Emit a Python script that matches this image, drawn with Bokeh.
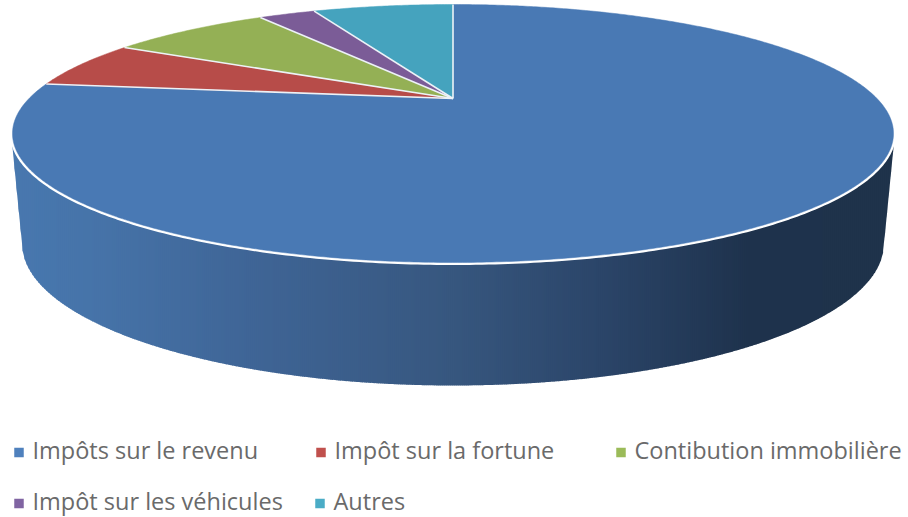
import numpy as np
from bokeh.core.properties import value
from bokeh.embed import file_html
from bokeh.models import Range1d
from bokeh.plotting import figure
from bokeh.resources import INLINE

# Data (share of the total, %)
categories = ["Impôts sur le revenu", "Impôt sur la fortune", "Contibution immobilière",
              "Impôt sur les véhicules", "Autres"]
shares = [77.0, 6.0, 7.6, 2.7, 6.7]
top_colors = ["#4979B4", "#B74C49", "#94B055", "#7B5C97", "#45A3BE"]
legend_colors = ["#4F81BD", "#C0504D", "#9BBB59", "#8064A2", "#4BACC6"]

# Layout
W, H = 908, 517
CX, APEX_Y, TOP_Y, FRONT_Y = 452.5, 98.0, 4.0, 262.0
RX, ELL_CY, ELL_RY = 440.5, 133.0, 129.0
BOT_RX, BOT_CY, BOT_RY = 431.0, 243.0, 142.0
WALL_START_Y = 147.0
legend_x = [14, 316, 616, 14, 315]
legend_text_x = [32, 334, 634, 32, 333]
legend_y = [452, 452, 452, 503, 503]
TEXT_SHIFT = -2.5
FONT_PX = "23.5px"

# Perspective of the flat disc: back edge, centre and front edge map to TOP_Y, APEX_Y, FRONT_Y
c = -(2 * APEX_Y - TOP_Y - FRONT_Y) / (FRONT_Y - TOP_Y)
a = TOP_Y * (1 + c) - APEX_Y
d = RX * np.sqrt(1 - c * c)


def rim(phi):
    den = 1 + c * np.cos(phi)
    return CX + d * np.sin(phi) / den, (APEX_Y + a * np.cos(phi)) / den


p = figure(width=W, height=H, output_backend="svg", toolbar_location=None,
           x_range=Range1d(0, W), y_range=Range1d(H, 0),
           x_axis_location=None, y_axis_location=None, min_border=0,
           outline_line_color=None, background_fill_color="white", border_fill_color="white")
p.grid.visible = False

# Side wall: vertical strips for the shading
stops_x = [12, 100, 250, 450, 600, 750, 893]
stops_rgb = np.array([[72, 120, 175], [70, 115, 168], [63, 101, 150], [55, 87, 127],
                      [43, 69, 105], [30, 50, 76], [31, 51, 75]], dtype=float)
edges = np.arange(12.0, 893.5, 2.0)
xs, ys, cols = [], [], []


def wall_bottom(x):
    if x < CX - BOT_RX:
        return WALL_START_Y + (x - 12) * (BOT_CY - WALL_START_Y) / (CX - BOT_RX - 12)
    if x > CX + BOT_RX:
        return WALL_START_Y + (893 - x) * (BOT_CY - WALL_START_Y) / (893 - CX - BOT_RX)
    return BOT_CY + BOT_RY * np.sqrt(1 - ((x - CX) / BOT_RX) ** 2)


for x0 in edges:
    x1 = min(x0 + 2.6, 893.0)
    rgb = [np.interp(x0 + 1, stops_x, stops_rgb[:, k]) for k in range(3)]
    xs.append([x0, x1, x1, x0])
    ys.append([ELL_CY, ELL_CY, wall_bottom(x1), wall_bottom(x0)])
    cols.append("#%02x%02x%02x" % tuple(int(round(v)) for v in rgb))
p.patches(xs, ys, fill_color=cols, line_color=None)

# White rim on the front edge of the disc, drawn under the slices
t = np.linspace(np.pi * 0.47, np.pi * 1.53, 300)
rim_x, rim_y = rim(t)
p.line(rim_x, rim_y, line_color="white", line_width=5.0)

# Slices, clockwise from the top
bounds = np.cumsum([0.0] + shares) / sum(shares) * 2 * np.pi
for i in range(len(shares)):
    n = max(int((bounds[i + 1] - bounds[i]) * 120), 8)
    t = np.linspace(bounds[i], bounds[i + 1], n)
    rx, ry = rim(t)
    p.patch(np.r_[CX, rx], np.r_[APEX_Y, ry], fill_color=top_colors[i], line_color=top_colors[i],
            line_width=0.5)

# White separators between the slices
for b in bounds[:-1]:
    rx, ry = rim(np.array([b]))
    p.line([CX, rx[0]], [APEX_Y, ry[0]], line_color="#EDF2F7", line_width=1.6)

# Legend
for i, name in enumerate(categories):
    p.rect([legend_x[i] + 4.5], [legend_y[i]], width=9.5, height=9.5, fill_color=legend_colors[i],
           line_color=None)
    p.text([legend_text_x[i]], [legend_y[i] + TEXT_SHIFT], text=[name], text_font=value("Open Sans"),
           text_font_size=FONT_PX, text_color="#6A6A6A", text_baseline="middle", text_align="left")

open("out.html", "w").write(file_html(p, INLINE))
